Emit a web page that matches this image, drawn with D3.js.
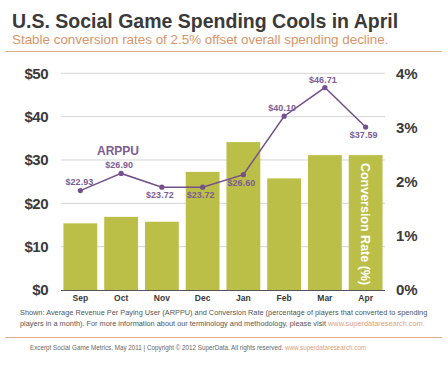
<!DOCTYPE html>
<html>
<head>
<meta charset="utf-8">
<script src="https://cdn.jsdelivr.net/npm/d3@7"></script>
<style>
  body { margin: 0; background: #fff; }
  svg { display: block; font-family: "Liberation Sans", Arial, sans-serif; }
</style>
</head>
<body>
<svg id="chart" width="448" height="365"></svg>
<script>
var months = ['Sep', 'Oct', 'Nov', 'Dec', 'Jan', 'Feb', 'Mar', 'Apr'];
var conversion = [1.23, 1.35, 1.26, 2.18, 2.73, 2.06, 2.49, 2.49];
var arpppu = [22.93, 26.90, 23.72, 23.72, 26.60, 40.10, 46.71, 37.59];
var labelPos = ['left', 'above', 'below', 'below', 'below', 'above', 'above', 'below'];
var dollarTicks = [0, 10, 20, 30, 40, 50];
var pctTicks = [0, 1, 2, 3, 4];

var green = '#bbbf47';
var purple = '#74508c';

var main = () => {
  var svg = d3.select('#chart');

  // header
  svg.append('text').attr('x', 12).attr('y', 28)
    .style('font-size', '19.5px').style('font-weight', 'bold').style('fill', '#3a3a3a')
    .text('U.S. Social Game Spending Cools in April');
  svg.append('text').attr('x', 12).attr('y', 44)
    .style('font-size', '13.4px').style('fill', '#d9946a')
    .text('Stable conversion rates of 2.5% offset overall spending decline.');
  svg.append('line').attr('x1', 5).attr('x2', 442).attr('y1', 51.5).attr('y2', 51.5)
    .style('stroke', '#e0ae8c').style('stroke-width', 1);

  var x = d3.scaleBand().domain(months).range([60, 386]).paddingInner(0.17).paddingOuter(0.085);
  var yD = d3.scaleLinear().domain([0, 50]).range([290, 73.3]);
  var yP = d3.scaleLinear().domain([0, 4]).range([290, 73.3]);

  // gridlines
  svg.append('g').selectAll('line').data(dollarTicks.slice(1)).enter().append('line')
    .attr('x1', 61).attr('x2', 385)
    .attr('y1', (d) => yD(d)).attr('y2', (d) => yD(d))
    .style('stroke', '#d4d4d4').style('stroke-width', 1);

  // bars
  svg.append('g').selectAll('rect').data(conversion).enter().append('rect')
    .attr('x', (d, i) => x(months[i])).attr('width', x.bandwidth())
    .attr('y', (d) => yP(d)).attr('height', (d) => yP(0) - yP(d))
    .style('fill', green);

  // baseline
  svg.append('line').attr('x1', 61).attr('x2', 385).attr('y1', 290.5).attr('y2', 290.5)
    .style('stroke', '#555').style('stroke-width', 1.2);

  // left axis
  var left = svg.append('g').attr('transform', 'translate(48,0)')
    .call(d3.axisLeft(yD).tickValues(dollarTicks).tickSize(0).tickPadding(0).tickFormat((d) => '$' + d));
  left.select('.domain').remove();
  left.selectAll('text').style('font-size', '15px').style('font-weight', 'bold')
    .style('fill', '#3a3a3a').style('font-family', '"Liberation Sans", Arial, sans-serif')
    .style('letter-spacing', '-0.5px');

  // right axis
  var right = svg.append('g').attr('transform', 'translate(396,0)')
    .call(d3.axisRight(yP).tickValues(pctTicks).tickSize(0).tickPadding(0).tickFormat((d) => d + '%'));
  right.select('.domain').remove();
  right.selectAll('text').style('font-size', '15px').style('font-weight', 'bold')
    .style('fill', '#3a3a3a').style('font-family', '"Liberation Sans", Arial, sans-serif');

  // month axis
  var bottom = svg.append('g').attr('transform', 'translate(0,295)')
    .call(d3.axisBottom(x).tickSize(0).tickPadding(0));
  bottom.select('.domain').remove();
  bottom.selectAll('text').style('font-size', '8.5px').style('font-weight', 'bold')
    .style('fill', '#3a3a3a').style('font-family', '"Liberation Sans", Arial, sans-serif');

  // conversion rate label in last bar
  var lastX = x(months[months.length - 1]) + x.bandwidth() / 2;
  svg.append('text').attr('transform', 'translate(' + (lastX - 4.5) + ',224) rotate(90)')
    .attr('text-anchor', 'middle')
    .style('font-size', '12.5px').style('font-weight', 'bold').style('fill', '#fff')
    .text('Conversion Rate (%)');

  // ARPPU line
  var cx = (d, i) => x(months[i]) + x.bandwidth() / 2;
  var line = d3.line().x(cx).y((d) => yD(d));
  svg.append('path').datum(arpppu).attr('d', line)
    .style('fill', 'none').style('stroke', purple).style('stroke-width', 1.5);
  svg.append('g').selectAll('circle').data(arpppu).enter().append('circle')
    .attr('cx', cx).attr('cy', (d) => yD(d)).attr('r', 2.6).style('fill', purple);

  svg.append('g').selectAll('text').data(arpppu).enter().append('text')
    .attr('x', (d, i) => labelPos[i] === 'left' ? cx(d, i) - 1 : cx(d, i) - 2)
    .attr('y', (d, i) => {
      if (labelPos[i] === 'above') return yD(d) - 5;
      if (labelPos[i] === 'below') return yD(d) + 11;
      return yD(d) - 5.5;
    })
    .attr('text-anchor', 'middle')
    .style('font-size', '9px').style('font-weight', 'bold').style('fill', '#7d5c95')
    .text((d) => '$' + d.toFixed(2));

  svg.append('text').attr('x', 118).attr('y', 154.5).attr('text-anchor', 'middle')
    .style('font-size', '12px').style('font-weight', 'bold').style('fill', '#7d5c95')
    .text('ARPPU');

  // footnote
  var note = svg.append('text').style('font-size', '7.35px').style('fill', '#555');
  note.append('tspan').attr('x', 20).attr('y', 315)
    .text('Shown: Average Revenue Per Paying User (ARPPU) and Conversion Rate (percentage of players that converted to spending');
  note.append('tspan').attr('x', 20).attr('y', 325.5)
    .text('players in a month). For more information about our terminology and methodology, please visit ');
  note.append('tspan').style('fill', '#e0a07a').text('www.superdataresearch.com.');

  svg.append('line').attr('x1', 5).attr('x2', 442).attr('y1', 337.5).attr('y2', 337.5)
    .style('stroke', '#e0ae8c').style('stroke-width', 1);

  var foot = svg.append('text').attr('x', 30).attr('y', 350).style('font-size', '6.3px').style('fill', '#666');
  foot.append('tspan').text('Excerpt Social Game Metrics, May 2011 | Copyright \u00a9 2012 SuperData. All rights reserved. ');
  foot.append('tspan').style('fill', '#e0a07a').text('www.superdataresearch.com');
};

main();
</script>
</body>
</html>
